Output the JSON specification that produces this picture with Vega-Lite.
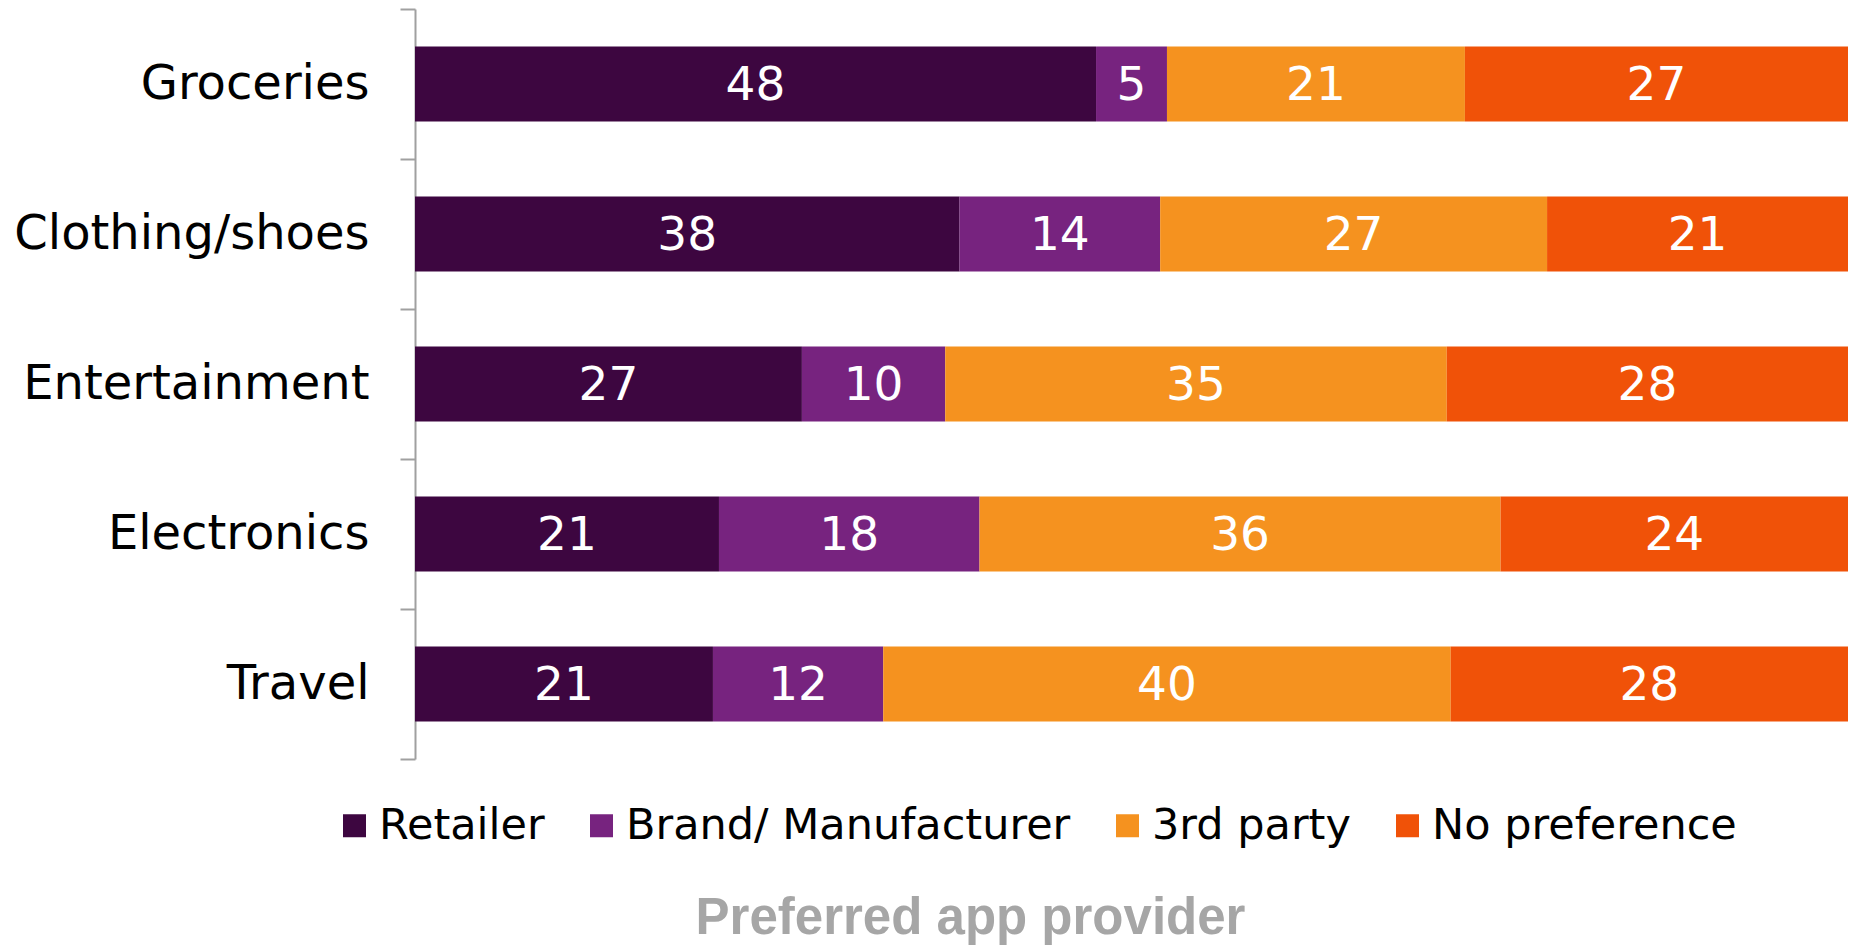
{
  "$schema": "https://vega.github.io/schema/vega-lite/v6.json",
  "autosize": {"type": "none"},
  "width": 1433,
  "height": 750,
  "padding": {"left": 415, "top": 9, "right": 6, "bottom": 191},
  "background": "white",
  "title": {
    "text": "Preferred app provider",
    "orient": "bottom",
    "anchor": "middle",
    "frame": "group",
    "dx": -161,
    "offset": 46,
    "font": "Liberation Sans",
    "fontWeight": "bold",
    "fontSize": 51,
    "color": "#A6A6A6"
  },
  "data": {
    "values": [
      {"category": "Groceries", "provider": "Retailer", "value": 48},
      {"category": "Groceries", "provider": "Brand/ Manufacturer", "value": 5},
      {"category": "Groceries", "provider": "3rd party", "value": 21},
      {"category": "Groceries", "provider": "No preference", "value": 27},
      {"category": "Clothing/shoes", "provider": "Retailer", "value": 38},
      {"category": "Clothing/shoes", "provider": "Brand/ Manufacturer", "value": 14},
      {"category": "Clothing/shoes", "provider": "3rd party", "value": 27},
      {"category": "Clothing/shoes", "provider": "No preference", "value": 21},
      {"category": "Entertainment", "provider": "Retailer", "value": 27},
      {"category": "Entertainment", "provider": "Brand/ Manufacturer", "value": 10},
      {"category": "Entertainment", "provider": "3rd party", "value": 35},
      {"category": "Entertainment", "provider": "No preference", "value": 28},
      {"category": "Electronics", "provider": "Retailer", "value": 21},
      {"category": "Electronics", "provider": "Brand/ Manufacturer", "value": 18},
      {"category": "Electronics", "provider": "3rd party", "value": 36},
      {"category": "Electronics", "provider": "No preference", "value": 24},
      {"category": "Travel", "provider": "Retailer", "value": 21},
      {"category": "Travel", "provider": "Brand/ Manufacturer", "value": 12},
      {"category": "Travel", "provider": "3rd party", "value": 40},
      {"category": "Travel", "provider": "No preference", "value": 28}
    ]
  },
  "transform": [
    {"calculate": "indexof(['Retailer','Brand/ Manufacturer','3rd party','No preference'], datum.provider)", "as": "rank"},
    {"stack": "value", "groupby": ["category"], "sort": [{"field": "rank", "order": "ascending"}], "offset": "normalize", "as": ["x0", "x1"]},
    {"calculate": "(datum.x0 + datum.x1) / 2", "as": "xmid"}
  ],
  "encoding": {
    "y": {
      "field": "category",
      "type": "nominal",
      "sort": ["Groceries", "Clothing/shoes", "Entertainment", "Electronics", "Travel"],
      "scale": {"paddingInner": 0, "paddingOuter": 0},
      "axis": {
        "title": null,
        "tickBand": "extent",
        "domainColor": "#A0A0A0",
        "domainWidth": 2,
        "tickColor": "#A0A0A0",
        "tickWidth": 2,
        "tickSize": 15,
        "labelPadding": 31,
        "labelFont": "DejaVu Sans",
        "labelFontSize": 48,
        "labelColor": "#000000",
        "labelLimit": 500
      }
    }
  },
  "layer": [
    {
      "mark": {"type": "bar", "height": {"band": 0.5}},
      "encoding": {
        "x": {"field": "x0", "type": "quantitative", "scale": {"domain": [0, 1], "nice": false}, "axis": null},
        "x2": {"field": "x1"},
        "color": {
          "field": "provider",
          "type": "nominal",
          "scale": {
            "domain": ["Retailer", "Brand/ Manufacturer", "3rd party", "No preference"],
            "range": ["#3D0640", "#77237F", "#F5921F", "#F05208"]
          },
          "legend": {
            "title": null,
            "orient": "none",
            "direction": "horizontal",
            "legendX": -82,
            "legendY": 795,
            "symbolType": "square",
            "symbolSize": 529,
            "symbolStrokeWidth": 0,
            "labelFont": "DejaVu Sans",
            "labelFontSize": 43,
            "labelColor": "#000000",
            "labelOffset": 3,
            "columnPadding": 35,
            "labelLimit": 600
          }
        }
      }
    },
    {
      "mark": {"type": "text", "color": "white", "font": "DejaVu Sans", "fontSize": 47, "baseline": "middle", "align": "center", "dy": 2},
      "encoding": {
        "x": {"field": "xmid", "type": "quantitative"},
        "text": {"field": "value", "type": "quantitative"}
      }
    }
  ],
  "config": {"view": {"stroke": null}}
}
